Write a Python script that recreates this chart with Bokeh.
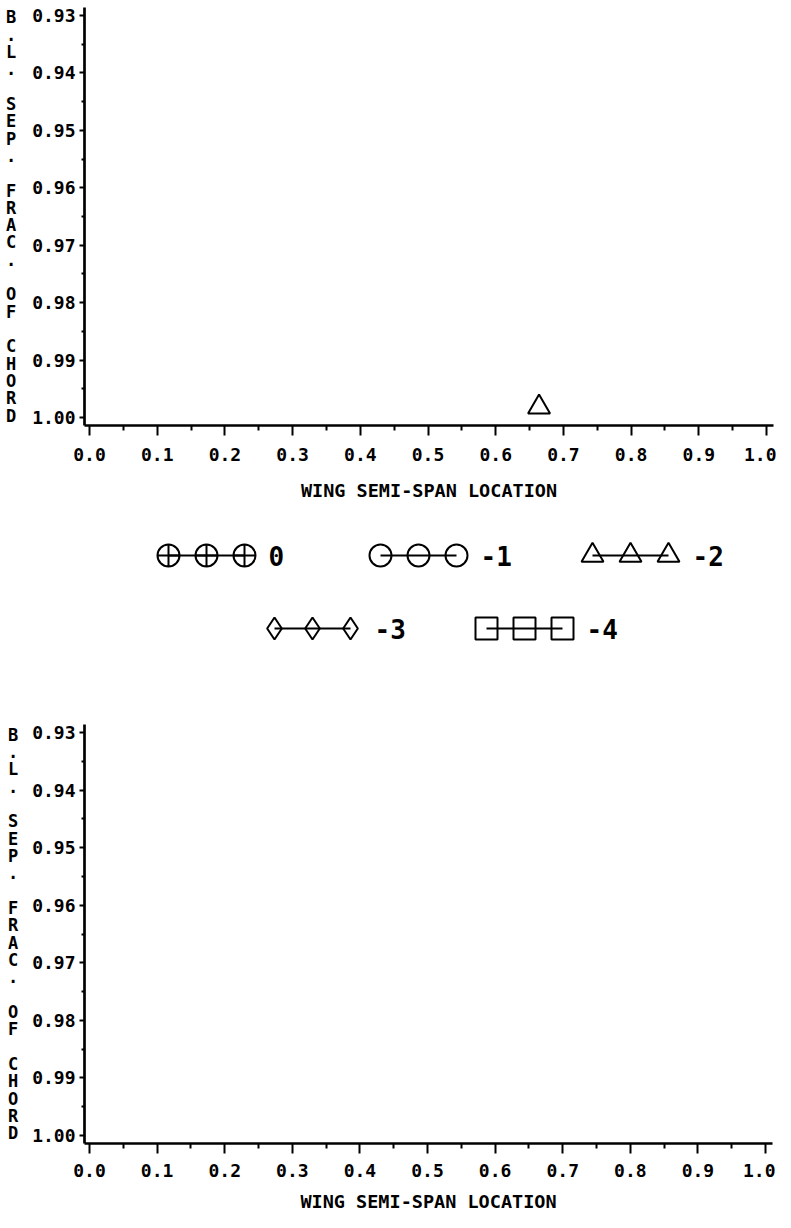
from bokeh.plotting import figure
from bokeh.layouts import column
from bokeh.models import Range1d, FixedTicker, PrintfTickFormatter
from bokeh.core.properties import value
from bokeh.embed import file_html
from bokeh.resources import INLINE

# ---------------- data ----------------
series_names = ["0", "-1", "-2", "-3", "-4"]

# upper panel (x = wing semi-span location, y = B.L. sep. fraction of chord)
top_x_0 = []
top_y_0 = []
top_x_m1 = []
top_y_m1 = []
top_x_m2 = [0.664]
top_y_m2 = [0.9982]
top_x_m3 = []
top_y_m3 = []
top_x_m4 = []
top_y_m4 = []

# lower panel
bot_x_0 = []
bot_y_0 = []
bot_x_m1 = []
bot_y_m1 = []
bot_x_m2 = []
bot_y_m2 = []
bot_x_m3 = []
bot_y_m3 = []
bot_x_m4 = []
bot_y_m4 = []

x_ticks = [0.0, 0.1, 0.2, 0.3, 0.4, 0.5, 0.6, 0.7, 0.8, 0.9, 1.0]
x_tick_labels = ["0.0", "0.1", "0.2", "0.3", "0.4", "0.5", "0.6", "0.7", "0.8", "0.9", "1.0"]
x_minor = [0.05, 0.15, 0.25, 0.35, 0.45, 0.55, 0.65, 0.75, 0.85, 0.95]
y_ticks = [0.93, 0.94, 0.95, 0.96, 0.97, 0.98, 0.99, 1.00]
y_tick_labels = ["0.93", "0.94", "0.95", "0.96", "0.97", "0.98", "0.99", "1.00"]
y_minor = [0.935, 0.945, 0.955, 0.965, 0.975, 0.985, 0.995]

x_title = "WING SEMI-SPAN LOCATION"
y_title = "B.L. SEP. FRAC. OF CHORD"

# ---------------- styles ----------------
markers = ["circle_cross", "circle", "triangle", "diamond", "square"]
FONT = "DejaVu Sans Mono"
MSIZE = 22
TOTAL_W = 775


def make_panel(series_x, series_y, left, top, fw, fh, bottom, s1, s2, s3):
    xr = Range1d(-0.0074, 1.0103)
    yr = Range1d(1.0014, 0.9286)
    p = figure(output_backend="svg", toolbar_location=None,
               frame_width=fw, frame_height=fh,
               min_border_left=left, min_border_right=TOTAL_W - left - fw,
               min_border_top=top, min_border_bottom=bottom,
               x_range=xr, y_range=yr)
    p.grid.visible = False
    p.outline_line_color = None

    for xs, ys, mk in zip(series_x, series_y, markers):
        p.line(xs, ys, line_color="black", line_width=2)
        p.scatter(xs, ys, marker=mk, size=MSIZE, fill_color=None,
                  line_color="black", line_width=2)

    xa = p.xaxis[0]
    xa.ticker = FixedTicker(ticks=x_ticks, minor_ticks=x_minor)
    xa.formatter = PrintfTickFormatter(format="%.1f")
    xa.major_label_overrides = {t: l for t, l in zip(x_ticks, x_tick_labels)}
    xa.axis_label = x_title
    ya = p.yaxis[0]
    ya.ticker = FixedTicker(ticks=y_ticks, minor_ticks=y_minor)
    ya.formatter = PrintfTickFormatter(format="%.2f")
    ya.major_label_overrides = {t: l for t, l in zip(y_ticks, y_tick_labels)}

    for ax in (xa, ya):
        ax.axis_line_color = "black"
        ax.axis_line_width = 2.7
        ax.major_tick_line_color = "black"
        ax.major_tick_line_width = 2
        ax.minor_tick_line_color = "black"
        ax.minor_tick_line_width = 2
        ax.major_tick_in = 0
        ax.minor_tick_in = 0
        ax.major_label_text_font = FONT
        ax.major_label_text_font_style = "bold"
        ax.major_label_text_font_size = "18px"
        ax.major_label_text_color = "black"
        ax.axis_label_text_font = FONT
        ax.axis_label_text_font_style = "bold"
        ax.axis_label_text_color = "black"
    xa.axis_label_text_font_size = "18.5px"
    xa.major_tick_out = 10
    xa.minor_tick_out = 5
    xa.major_label_standoff = s1
    xa.axis_label_standoff = s2
    ya.major_tick_out = 5
    ya.minor_tick_out = 3
    ya.major_label_standoff = 4

    # stacked, upright letters for the y title
    if hasattr(ya, "axis_label_orientation"):
        ya.axis_label = "\n".join(list(y_title))
        ya.axis_label_orientation = "horizontal"
        ya.axis_label_text_line_height = 0.866
        ya.axis_label_text_font_size = "17px"
        ya.axis_label_text_align = "center"
    else:
        ya.axis_label = y_title
        ya.axis_label_text_font_size = "16px"
    ya.axis_label_standoff = s3
    return p


top = make_panel([top_x_0, top_x_m1, top_x_m2, top_x_m3, top_x_m4],
                 [top_y_0, top_y_m1, top_y_m2, top_y_m3, top_y_m4],
                 left=81, top=7, fw=689, fh=418, bottom=87,
                 s1=12, s2=16, s3=13)

# ---------------- legend strip (page-pixel coordinates) ----------------
LH = 165
leg = figure(output_backend="svg", toolbar_location=None,
             frame_width=689, frame_height=LH,
             min_border_left=81, min_border_right=TOTAL_W - 81 - 689,
             min_border_top=0, min_border_bottom=0,
             x_range=Range1d(89, 778), y_range=Range1d(LH, 0),
             x_axis_type=None, y_axis_type=None)
leg.grid.visible = False
leg.outline_line_color = None

rows = [["0", "-1", "-2"], ["-3", "-4"]]
row_y = [43, 116]
pitch = 212
center = 385
step = 38
for names, ry in zip(rows, row_y):
    n = len(names)
    for i, nm in enumerate(names):
        x0 = center + (i - (n - 1) / 2) * pitch
        xs = [x0 + k * step for k in range(3)]
        ys = [ry] * 3
        mk = markers[series_names.index(nm)]
        leg.line(xs, ys, line_color="black", line_width=2)
        leg.scatter(xs, ys, marker=mk, size=MSIZE, fill_color=None,
                    line_color="black", line_width=2)
        leg.text(x=[xs[-1] + 24], y=[ry], text=[nm], text_font=value(FONT),
                 text_font_style="bold", text_font_size="26px",
                 text_baseline="middle", text_align="left", text_color="black")

bottom = make_panel([bot_x_0, bot_x_m1, bot_x_m2, bot_x_m3, bot_x_m4],
                    [bot_y_0, bot_y_m1, bot_y_m2, bot_y_m3, bot_y_m4],
                    left=84, top=47, fw=688, fh=419, bottom=69,
                    s1=10, s2=11, s3=11)

layout = column(top, leg, bottom, spacing=0)
open("out.html", "w").write(file_html(layout, INLINE))
